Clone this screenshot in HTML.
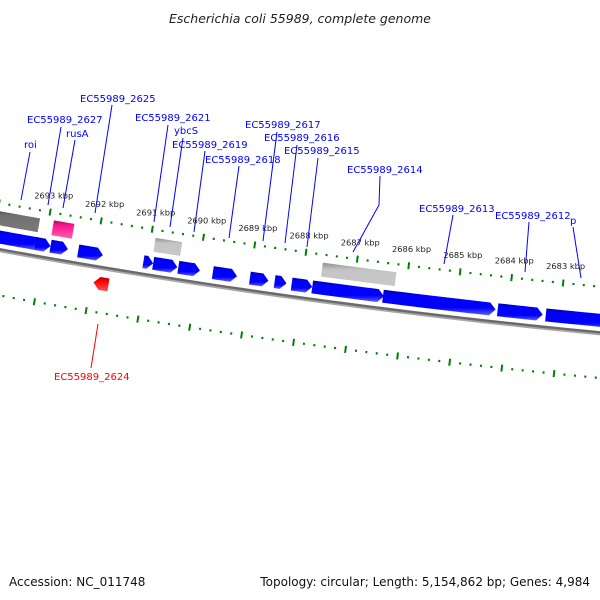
<!DOCTYPE html>
<html><head><meta charset="utf-8"><style>
html,body{margin:0;padding:0;background:#fff;}
svg{display:block;}
text{font-family:"DejaVu Sans","Liberation Sans",sans-serif;}
</style></head><body>
<svg id="map" width="600" height="600" viewBox="0 0 600 600" xmlns="http://www.w3.org/2000/svg">
<defs>
<linearGradient id="gBlue" x1="0" y1="0" x2="0" y2="1"><stop offset="0" stop-color="#0000a8"/><stop offset="0.25" stop-color="#0000ff"/><stop offset="0.7" stop-color="#0000ff"/><stop offset="1" stop-color="#6060ff"/></linearGradient>
<linearGradient id="gRed" x1="0" y1="0" x2="0" y2="1"><stop offset="0" stop-color="#b00000"/><stop offset="0.3" stop-color="#ff0000"/><stop offset="1" stop-color="#ff5050"/></linearGradient>
<linearGradient id="gLight" x1="0" y1="0" x2="0" y2="1"><stop offset="0" stop-color="#909090"/><stop offset="0.3" stop-color="#c4c4c4"/><stop offset="1" stop-color="#c8c8c8"/></linearGradient>
<linearGradient id="gDark" x1="0" y1="0" x2="0" y2="1"><stop offset="0" stop-color="#404040"/><stop offset="0.3" stop-color="#707070"/><stop offset="1" stop-color="#7a7a7a"/></linearGradient>
<linearGradient id="gPink" x1="0" y1="0" x2="0" y2="1"><stop offset="0" stop-color="#a0105a"/><stop offset="0.3" stop-color="#ff1493"/><stop offset="1" stop-color="#ff60b0"/></linearGradient>
</defs>
<text x="300" y="23" text-anchor="middle" font-size="12.5" font-style="italic" fill="#222">Escherichia coli 55989, complete genome</text>
<g id="rings"></g>
<g id="feats"></g>
<g id="labels" font-size="10" fill="#0000ff">
<g><line x1="30" y1="152" x2="21" y2="200" stroke="#00f"/><text x="24" y="148">roi</text></g>
<g><line x1="61" y1="127" x2="48" y2="205" stroke="#00f"/><text x="27" y="123">EC55989_2627</text></g>
<g><line x1="75" y1="140" x2="63" y2="208" stroke="#00f"/><text x="66" y="137">rusA</text></g>
<g><line x1="112" y1="105" x2="95" y2="213" stroke="#00f"/><text x="80" y="102">EC55989_2625</text></g>
<g><line x1="168" y1="125" x2="154" y2="222" stroke="#00f"/><text x="135" y="121">EC55989_2621</text></g>
<g><line x1="183" y1="138" x2="170" y2="227" stroke="#00f"/><text x="174" y="134">ybcS</text></g>
<g><line x1="205" y1="151" x2="194" y2="232" stroke="#00f"/><text x="172" y="148">EC55989_2619</text></g>
<g><line x1="239" y1="166" x2="229" y2="238" stroke="#00f"/><text x="205" y="163">EC55989_2618</text></g>
<g><line x1="277" y1="132" x2="263" y2="241" stroke="#00f"/><text x="245" y="128">EC55989_2617</text></g>
<g><line x1="297" y1="145" x2="285" y2="243" stroke="#00f"/><text x="264" y="141">EC55989_2616</text></g>
<g><line x1="318" y1="158" x2="307" y2="247" stroke="#00f"/><text x="284" y="154">EC55989_2615</text></g>
<g><polyline points="380,176 379,205 353,252" fill="none" stroke="#00f"/><text x="347" y="173">EC55989_2614</text></g>
<g><line x1="453" y1="215" x2="444" y2="264" stroke="#00f"/><text x="419" y="212">EC55989_2613</text></g>
<g><line x1="529" y1="222" x2="525" y2="272" stroke="#00f"/><text x="495" y="219">EC55989_2612</text></g>
<g><line x1="573" y1="227" x2="581" y2="278" stroke="#00f"/><text x="570" y="224">p</text></g>
<g><line x1="98" y1="324" x2="91" y2="368" stroke="#f00"/><text x="54" y="380" fill="#ff0000">EC55989_2624</text></g>
</g>
<text x="9" y="586" font-size="12" fill="#111">Accession: NC_011748</text>
<text x="590" y="586" font-size="12" fill="#111" text-anchor="end">Topology: circular; Length: 5,154,862 bp; Genes: 4,984</text>
</svg>
<script>
// data (kbp)
const blueStarts=[2694.0,2693.17,2692.88,2692.34,2691.07,2690.88,2690.39,2689.72,2689.00,2688.52,2688.19,2687.79,2686.42,2684.20,2683.27];
const blueEnds  =[2693.02,2692.88,2692.54,2691.86,2690.88,2690.41,2689.97,2689.25,2688.64,2688.29,2687.79,2686.40,2684.24,2683.33,2681.6];
const otherStarts=[2694.3,2692.90,2690.91,2687.65];
const otherEnds  =[2693.17,2692.50,2690.39,2686.22];
const otherKinds =["dark","pink","light","light"];
const redStarts=[2691.95];
const redEnds=[2691.66];
const tickMin=2681.6, tickMax=2694.6;
const labelMin=2683, labelMax=2693;

const NS="http://www.w3.org/2000/svg";
const cx=1276, cy=-6761, R=7126;
const k=51.8/(R-46);
const phiRef=Math.acos((306-cx)/(R-46));
function ang(kb){return phiRef+(kb-2688)*k;}
function pt(kb,off){const a=ang(kb),r=R+off;return [cx+r*Math.cos(a),cy+r*Math.sin(a)];}
function arcPath(k1,k2,off){let d="";const n=40;for(let i=0;i<=n;i++){const p=pt(k1+(k2-k1)*i/n,off);d+=(i?"L":"M")+p[0].toFixed(2)+","+p[1].toFixed(2);}return d;}
const feats=document.getElementById('feats'), rings=document.getElementById('rings');

let bb=document.createElementNS(NS,'path');
bb.setAttribute('d',arcPath(tickMax,tickMin,1.5));bb.setAttribute('stroke','#a8a8a8');bb.setAttribute('stroke-width','2');bb.setAttribute('fill','none');


rings.appendChild(bb);
let bb2=document.createElementNS(NS,'path');
bb2.setAttribute('d',arcPath(tickMax,tickMin,-0.5));bb2.setAttribute('stroke','#6a6a6a');bb2.setAttribute('stroke-width','2.5');bb2.setAttribute('fill','none');


rings.appendChild(bb2);

[-46,45].forEach(function(off,ri){
  for(let t=Math.ceil(tickMin*5);t<=tickMax*5;t++){
    const kb=t/5, major=(t%5===0);
    const len=major?3.5:1.1;
    const a=pt(kb,off-len),b=pt(kb,off+len);
    const l=document.createElementNS(NS,'line');
    l.setAttribute('x1',a[0]);l.setAttribute('y1',a[1]);l.setAttribute('x2',b[0]);l.setAttribute('y2',b[1]);
    l.setAttribute('stroke','#008000');l.setAttribute('stroke-width','2');
    
    
    rings.appendChild(l);
    if(major&&ri===0&&kb>=labelMin&&kb<=labelMax){
      const p=pt(kb,-61);
      const tx=document.createElementNS(NS,'text');
      tx.setAttribute('x',p[0]+1);tx.setAttribute('y',p[1]+1);tx.setAttribute('text-anchor','middle');
      tx.setAttribute('font-size','8.3');tx.setAttribute('fill','#222');
      tx.textContent=kb+" kbp";
      
      
      rings.appendChild(tx);
    }
  }
});

function gene(s,e,off,h,fill,dir,name){
  const head=6/51.8;
  let pts=[];
  const n=10;
  if(dir===0){
    for(let i=0;i<=n;i++)pts.push(pt(s+(e-s)*i/n,off-h/2));
    for(let i=n;i>=0;i--)pts.push(pt(s+(e-s)*i/n,off+h/2));
  }else if(dir===1){
    const len=Math.abs(s-e), hd=Math.min(head,len*0.6), e2=e+hd*Math.sign(s-e);
    for(let i=0;i<=n;i++)pts.push(pt(s+(e2-s)*i/n,off-h/2));
    pts.push(pt(e,off));
    for(let i=n;i>=0;i--)pts.push(pt(s+(e2-s)*i/n,off+h/2));
  }else{
    const len=Math.abs(s-e), hd=Math.min(head,len*0.6), s2=s-hd*Math.sign(s-e);
    pts.push(pt(s,off));
    for(let i=0;i<=n;i++)pts.push(pt(s2+(e-s2)*i/n,off-h/2));
    for(let i=n;i>=0;i--)pts.push(pt(s2+(e-s2)*i/n,off+h/2));
  }
  const p=document.createElementNS(NS,'polygon');
  p.setAttribute('points',pts.map(q=>q[0].toFixed(2)+","+q[1].toFixed(2)).join(" "));
  p.setAttribute('fill',fill);
  
  
  feats.appendChild(p);
}
for(let i=0;i<blueStarts.length;i++)gene(blueStarts[i],blueEnds[i],-12.5,13,'url(#gBlue)',1,'forward-gene');
const fills={dark:'url(#gDark)',pink:'url(#gPink)',light:'url(#gLight)'};
for(let i=0;i<otherStarts.length;i++)gene(otherStarts[i],otherEnds[i],-31,otherKinds[i]==='pink'?15:14,fills[otherKinds[i]],0,otherKinds[i]+'-feature');
for(let i=0;i<redStarts.length;i++)gene(redStarts[i],redEnds[i],16,13,'url(#gRed)',-1,'reverse-gene');
</script>
</body></html>
